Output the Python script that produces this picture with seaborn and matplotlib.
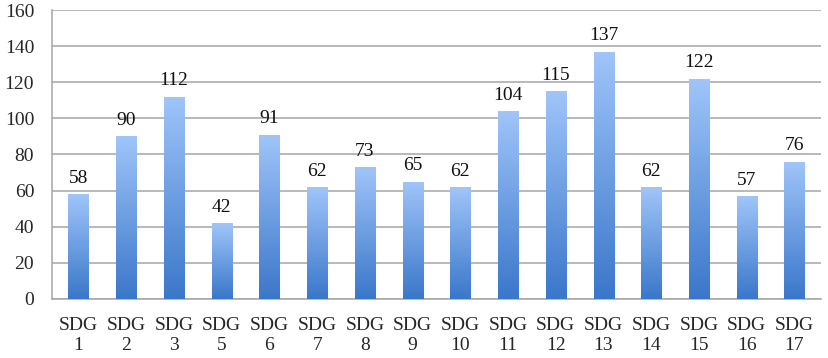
import numpy as np
import pandas as pd
import matplotlib
matplotlib.use('Agg')
import matplotlib.pyplot as plt
from matplotlib.colors import LinearSegmentedColormap
import seaborn as sb

goals = ['SDG\n1', 'SDG\n2', 'SDG\n3', 'SDG\n5', 'SDG\n6', 'SDG\n7', 'SDG\n8', 'SDG\n9',
         'SDG\n10', 'SDG\n11', 'SDG\n12', 'SDG\n13', 'SDG\n14', 'SDG\n15', 'SDG\n16', 'SDG\n17']
counts = [58, 90, 112, 42, 91, 62, 73, 65, 62, 104, 115, 137, 62, 122, 57, 76]

df = pd.DataFrame({'goal': goals, 'count': counts})

sb.set_style('white')
plt.rcParams['font.family'] = ['Liberation Serif', 'DejaVu Serif']
plt.rcParams['font.size'] = 14

grid_col = '#A6A6A6'
fig, ax = plt.subplots(figsize=(8.29, 3.58), dpi=100)
fig.subplots_adjust(left=0.063, right=0.99, top=0.972, bottom=0.165)

ax = sb.barplot(data=df, x='goal', y='count', color='#6FA3EA', width=0.42, ax=ax, zorder=3)

# gradient fill, light at top, darker at bottom
cmap = LinearSegmentedColormap.from_list('grad', ['#3A77CA', '#A0C5F9'])
grad = np.linspace(0, 1, 256).reshape(-1, 1)
for p in ax.patches:
    x0, y0 = p.get_x(), p.get_y()
    w, h = p.get_width(), p.get_height()
    im = ax.imshow(grad, cmap=cmap, origin='lower', aspect='auto',
                   extent=[x0, x0 + w, y0, y0 + h], zorder=4)
    im.set_clip_path(p)
    p.set_facecolor('none')
    p.set_edgecolor('none')

for i, v in enumerate(counts):
    ax.text(i, v + 4, str(v), ha='center', va='bottom', fontsize=14, color='#111111')

ax.set_xlim(-0.55, len(goals) - 0.45)
ax.set_ylim(0, 160)
ax.set_yticks(range(0, 161, 20))
ax.yaxis.grid(True, color=grid_col, linewidth=1.1, zorder=0)
ax.set_axisbelow(True)
ax.set_xlabel('')
ax.set_ylabel('')

ax.set_xticks(np.arange(len(goals) + 1) - 0.5, minor=True)
ax.tick_params(axis='x', which='major', length=0, pad=13, labelsize=14)
ax.tick_params(axis='x', which='minor', length=5, color=grid_col, width=1.1, direction='out')
ax.tick_params(axis='y', length=5, color=grid_col, width=1.1, direction='out', labelsize=14, pad=8)
for lbl in ax.get_xticklabels():
    lbl.set_linespacing(1.25)

for s in ['top', 'right']:
    ax.spines[s].set_visible(False)
for s in ['left', 'bottom']:
    ax.spines[s].set_color(grid_col)
    ax.spines[s].set_linewidth(1.1)

plt.savefig('out.png', dpi=100)
